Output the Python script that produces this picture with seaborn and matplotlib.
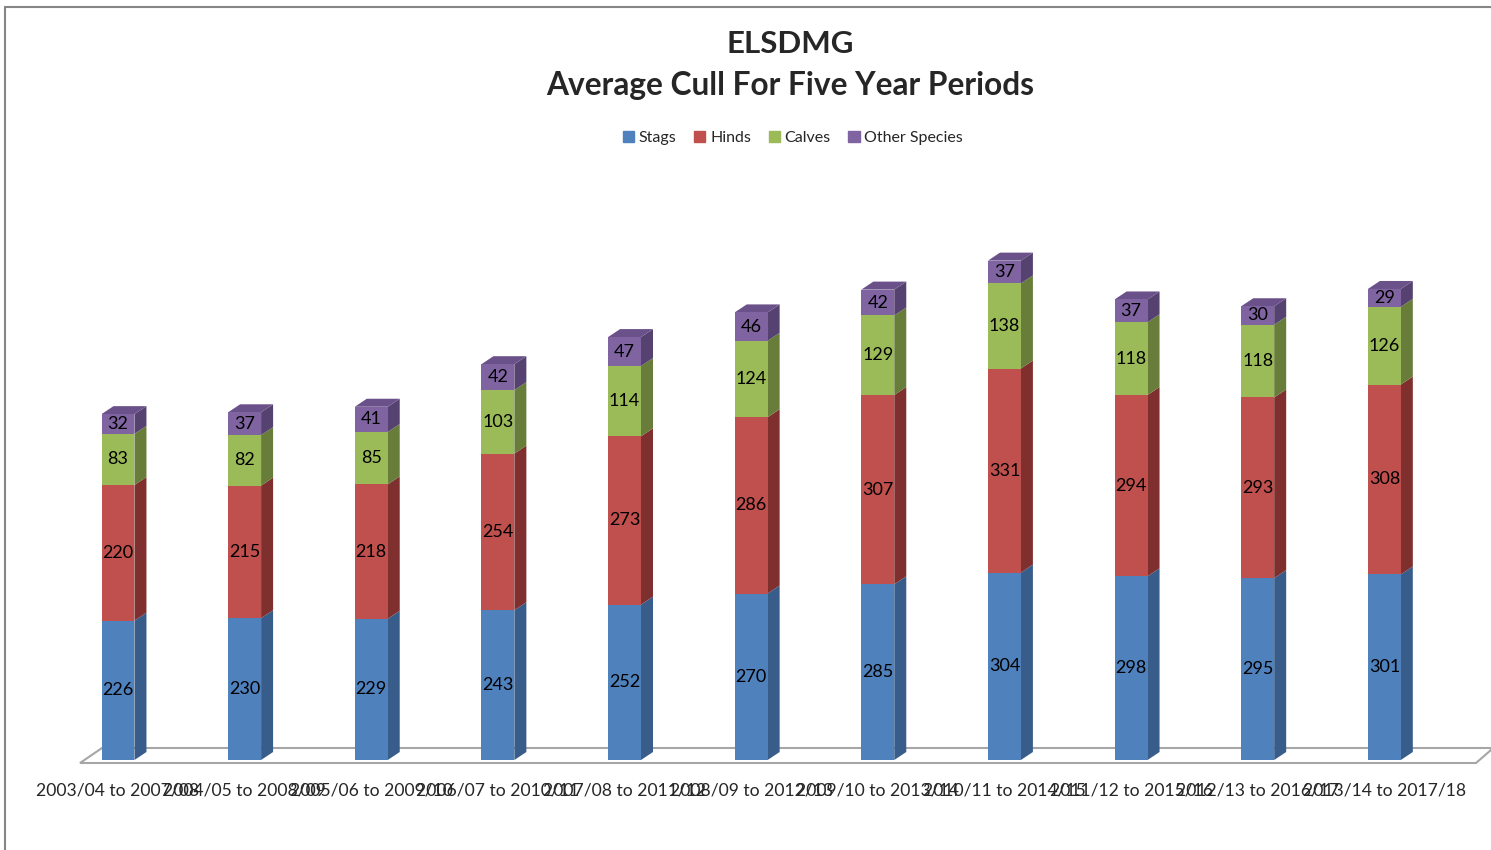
#import libraries

import pandas as pd
import numpy as np
import matplotlib.pyplot as plt
import seaborn as sns
from matplotlib.patches import Polygon
from matplotlib.lines import Line2D

#data

periods = ['2003/04 to 2007/08', '2004/05 to 2008/09', '2005/06 to 2009/10',
           '2006/07 to 2010/11', '2007/08 to 2011/12', '2008/09 to 2012/13',
           '2009/10 to 2013/14', '2010/11 to 2014/15', '2011/12 to 2015/16',
           '2012/13 to 2016/17', '2013/14 to 2017/18']
stags = [226, 230, 229, 243, 252, 270, 285, 304, 298, 295, 301]
hinds = [220, 215, 218, 254, 273, 286, 307, 331, 294, 293, 308]
calves = [83, 82, 85, 103, 114, 124, 129, 138, 118, 118, 126]
other = [32, 37, 41, 42, 47, 46, 42, 37, 37, 30, 29]

series_names = ['Stags', 'Hinds', 'Calves', 'Other Species']
front_colors = ['#4F81BD', '#C0504D', '#9BBB59', '#8064A2']
side_colors = ['#385D8A', '#7F302E', '#687D3A', '#564270']
top_colors = ['#4A74A8', '#A84644', '#89A84E', '#6A5189']

df = pd.DataFrame({'Period': periods, 'Stags': stags, 'Hinds': hinds,
                   'Calves': calves, 'Other Species': other})

sns.set_style('white')
plt.rcParams['font.family'] = ['Lato', 'DejaVu Sans']

fig = plt.figure(figsize=(14.91, 8.5), dpi=100)
ax = fig.add_axes([80 / 1491, 90 / 850, 1393 / 1491, 545 / 850])
ax.patch.set_alpha(0)

# stacked bars: draw cumulative totals from the top series down
cum = df[series_names].cumsum(axis=1)
bar_w = 0.26
bar_sets = []
for i in range(len(series_names) - 1, -1, -1):
    n_before = len(ax.patches)
    sns.barplot(data=cum, x=df['Period'], y=cum[series_names[i]], color=front_colors[i],
                width=bar_w, saturation=1, ax=ax, linewidth=0, zorder=3)
    bar_sets.append((i, ax.patches[n_before:]))
bar_sets = dict(bar_sets)

ax.set_xlim(-0.3, 10.7)
ax.set_ylim(0, 884)

# 3d depth of the bars
dx = 12 / 126.6
dy = 8 / 0.617

values = [stags, hinds, calves, other]
for i in range(len(series_names)):
    for j, p in enumerate(bar_sets[i]):
        x0 = p.get_x()
        x1 = x0 + p.get_width()
        top = p.get_height()
        bottom = top - values[i][j]
        # front face only for this segment
        p.set_y(bottom)
        p.set_height(values[i][j])
        side = Polygon([(x1, bottom), (x1 + dx, bottom + dy), (x1 + dx, top + dy), (x1, top)],
                       closed=True, facecolor=side_colors[i], edgecolor='none', zorder=2)
        ax.add_patch(side)
        if i == len(series_names) - 1:
            lid = Polygon([(x0, top), (x0 + dx, top + dy), (x1 + dx, top + dy), (x1, top)],
                          closed=True, facecolor=top_colors[i], edgecolor='none', zorder=2)
            ax.add_patch(lid)
        ax.text((x0 + x1) / 2, bottom + values[i][j] / 2, str(values[i][j]),
                ha='center', va='center', fontsize=13, color='black', zorder=5)

sns.despine(ax=ax, left=True, bottom=True)
ax.set_yticks([])
ax.set_xlabel('')
ax.set_ylabel('')
ax.tick_params(axis='x', length=0, pad=16, labelsize=12.6)

# floor of the 3d chart
floor = Polygon([(80 / 1491, 1 - 763 / 850), (102 / 1491, 1 - 748 / 850),
                 (1.0, 1 - 748 / 850), (1.0, 1 - 750 / 850), (1476 / 1491, 1 - 763 / 850)],
                closed=True, transform=fig.transFigure, facecolor='white',
                edgecolor='#A6A6A6', linewidth=1.5, zorder=-1)
fig.add_artist(floor)

# chart frame
fig.add_artist(Line2D([5 / 1491, 5 / 1491], [0, 1 - 7 / 850], transform=fig.transFigure,
                      color='#868686', linewidth=1.5))
fig.add_artist(Line2D([5 / 1491, 1], [1 - 7 / 850, 1 - 7 / 850], transform=fig.transFigure,
                      color='#868686', linewidth=1.5))

# title
fig.text(790 / 1491, 1 - 44 / 850, 'ELSDMG', ha='center', va='center',
         fontsize=22.5, fontweight='bold')
fig.text(790 / 1491, 1 - 86 / 850, 'Average Cull For Five Year Periods', ha='center',
         va='center', fontsize=22.8, fontweight='bold')

# legend
handles = [plt.Rectangle((0, 0), 1, 1, color=c) for c in front_colors]
fig.legend(handles, series_names, loc='center', bbox_to_anchor=(793 / 1491, 1 - 138 / 850),
           ncol=4, frameon=False, fontsize=11.5, handlelength=0.7, handleheight=0.7,
           handletextpad=0.3, columnspacing=1.1)

plt.savefig('out.png', dpi=100)
